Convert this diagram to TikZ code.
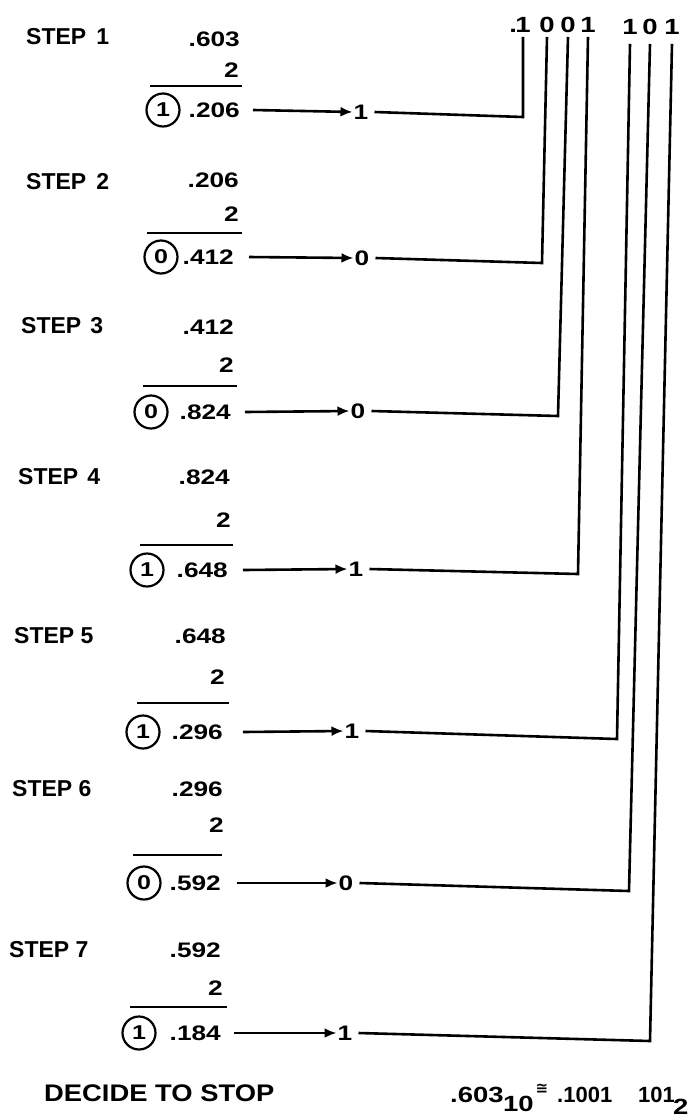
\documentclass[tikz,border=0pt]{standalone}
\usepackage{fontspec}
\setmainfont{Liberation Sans}
\newfontfamily\numf{Liberation Sans}[FakeStretch=1.25]
\newfontfamily\widef{Liberation Sans}[FakeStretch=1.14]
\newfontfamily\symf{DejaVu Sans}
\usetikzlibrary{arrows.meta}
\tikzset{
  lbl/.style={inner sep=0pt, anchor=west, font=\fontsize{23}{23}\selectfont\bfseries},
  num/.style={inner sep=0pt, anchor=east, font=\numf\fontsize{21}{21}\selectfont\bfseries},
  dig/.style={inner sep=0pt, font=\numf\fontsize{21}{21}\selectfont\bfseries},
  topdig/.style={inner sep=0pt, font=\numf\fontsize{22}{22}\selectfont\bfseries},
  fnum/.style={inner sep=0pt, anchor=west, font=\numf\fontsize{22}{22}\selectfont\bfseries},
  fone/.style={inner sep=0pt, anchor=west, font=\fontsize{22}{22}\selectfont\bfseries},
  circ/.style={circle, draw, line width=2.2pt, minimum size=33pt, inner sep=0pt, font=\numf\fontsize{20}{20}\selectfont\bfseries},
  bar/.style={line width=2.6pt},
  conn/.style={line width=2.6pt, line join=miter},
  arr/.style={line width=2.6pt, -{Latex[length=12pt,width=10pt]}, shorten >=1pt},
}
\begin{document}
\begin{tikzpicture}[x=1pt,y=-1pt]
\useasboundingbox (0,0) rectangle (698,1120);

% top digits
\node[topdig] (t1) at (523,25) {1};
\node[topdig, anchor=base east] (tdot) at ([xshift=2pt]t1.base west) {.};
\node[topdig] (t2) at (547,25) {0};
\node[topdig] (t3) at (568,25) {0};
\node[topdig] (t4) at (588,25) {1};
\node[topdig] (t5) at (630,27) {1};
\node[topdig] (t6) at (650,27) {0};
\node[topdig] (t7) at (672,27) {1};

% STEP 1
\node[lbl] (s1) at (26,36.5) {STEP\hspace{10pt}1};
\node[num] (m1) at (240,39.5) {.603};
\node[num] (w1) at (239,70) {2};
\draw[bar] (150,86) -- (242,86);
\node[circ] (k1) at (163,110) {1};
\node[num] (p1) at (240,110) {.206};
\node[dig] (d1) at (361,112) {1};
\coordinate (c1) at (523,117);
\draw[arr] ([xshift=13pt]p1.east) -- (d1.west);
\draw[conn] ([xshift=6pt]d1.east) -- (c1) -- ([yshift=-4pt]t1.south);

% STEP 2
\node[lbl] (s2) at (26,182) {STEP\hspace{10pt}2};
\node[num] (m2) at (239,180) {.206};
\node[num] (w2) at (239,214) {2};
\draw[bar] (147,233) -- (242,233);
\node[circ] (k2) at (161,257) {0};
\node[num] (p2) at (234,257) {.412};
\node[dig] (d2) at (362,258) {0};
\coordinate (c2) at (542,263);
\draw[arr] ([xshift=15pt]p2.east) -- (d2.west);
\draw[conn] ([xshift=6pt]d2.east) -- (c2) -- ([yshift=-4pt]t2.south);

% STEP 3
\node[lbl] (s3) at (21,326) {STEP\hspace{9pt}3};
\node[num] (m3) at (234,327) {.412};
\node[num] (w3) at (234,365) {2};
\draw[bar] (143,386) -- (237,386);
\node[circ] (k3) at (151,412) {0};
\node[num] (p3) at (231,412) {.824};
\node[dig] (d3) at (358,411) {0};
\coordinate (c3) at (558,416);
\draw[arr] ([xshift=14pt]p3.east) -- (d3.west);
\draw[conn] ([xshift=6pt]d3.east) -- (c3) -- ([yshift=-4pt]t3.south);

% STEP 4
\node[lbl] (s4) at (18,477) {STEP\hspace{9pt}4};
\node[num] (m4) at (230,477) {.824};
\node[num] (w4) at (231,520) {2};
\draw[bar] (140,545) -- (233,545);
\node[circ] (k4) at (147,570) {1};
\node[num] (p4) at (228,570) {.648};
\node[dig] (d4) at (356,569) {1};
\coordinate (c4) at (578,574);
\draw[arr] ([xshift=15pt]p4.east) -- (d4.west);
\draw[conn] ([xshift=6pt]d4.east) -- (c4) -- ([yshift=-4pt]t4.south);

% STEP 5
\node[lbl] (s5) at (14,636) {STEP 5};
\node[num] (m5) at (226,636) {.648};
\node[num] (w5) at (225,677) {2};
\draw[bar] (137,703) -- (229,703);
\node[circ] (k5) at (143,732) {1};
\node[num] (p5) at (223,732) {.296};
\node[dig] (d5) at (352,731) {1};
\coordinate (c5) at (617,739);
\draw[arr] ([xshift=20pt]p5.east) -- (d5.west);
\draw[conn] ([xshift=6pt]d5.east) -- (c5) -- ([yshift=-9pt]t5.south);

% STEP 6
\node[lbl] (s6) at (12,789) {STEP 6};
\node[num] (m6) at (223,789) {.296};
\node[num] (w6) at (224,825) {2};
\draw[bar] (133,855) -- (222,855);
\node[circ] (k6) at (144,883) {0};
\node[num] (p6) at (221,883) {.592};
\node[dig] (d6) at (346,883) {0};
\coordinate (c6) at (629,891);
\draw[arr] ([xshift=16pt]p6.east) -- (d6.west);
\draw[conn] ([xshift=6pt]d6.east) -- (c6) -- ([yshift=-9pt]t6.south);

% STEP 7
\node[lbl] (s7) at (9,950) {STEP 7};
\node[num] (m7) at (221,950) {.592};
\node[num] (w7) at (223,988) {2};
\draw[bar] (130,1007) -- (227,1007);
\node[circ] (k7) at (139,1033) {1};
\node[num] (p7) at (221,1033) {.184};
\node[dig] (d7) at (345,1033) {1};
\coordinate (c7) at (650,1041);
\draw[arr] ([xshift=13pt]p7.east) -- (d7.west);
\draw[conn] ([xshift=6pt]d7.east) -- (c7) -- ([yshift=-9pt]t7.south);

% bottom
\node[lbl, font=\widef\fontsize{24}{24}\selectfont\bfseries] (stop) at (44,1093) {DECIDE TO STOP};
\node[fnum] (f1) at (450,1095) {.603};
\node[fnum] (f2) at (503,1104) {10};
\node[inner sep=0pt, font=\symf\fontsize{15}{15}\selectfont\bfseries] (f3) at (542,1089) {≅};
\node[fone] (f4) at (557,1095) {.1001};
\node[fone] (f5) at (638,1095) {101};
\node[fnum] (f6) at (673,1107) {2};
\end{tikzpicture}
\end{document}
